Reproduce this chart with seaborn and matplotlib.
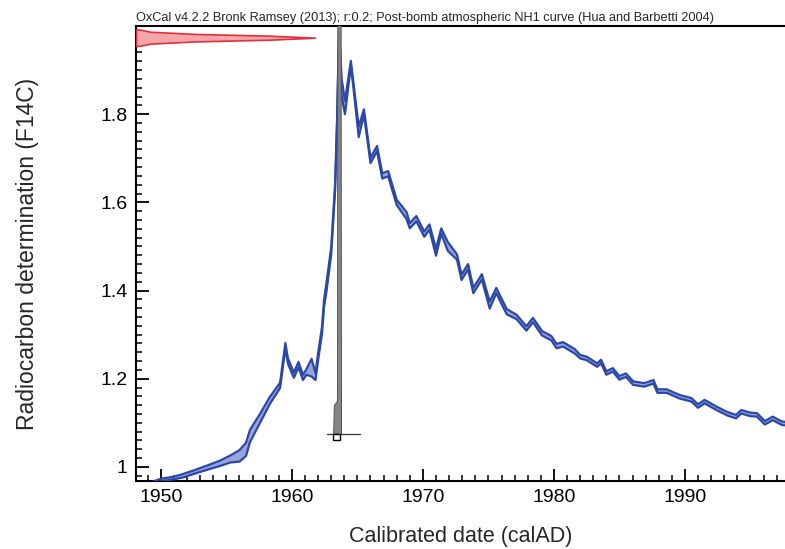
import numpy as np
import pandas as pd
import matplotlib
matplotlib.use("Agg")
import matplotlib.pyplot as plt
from matplotlib.ticker import MultipleLocator, FuncFormatter
from matplotlib.patches import Rectangle
import seaborn as sns

# ---- calibration curve (NH1 post-bomb) ----
curve_year = [1949.5, 1950.0, 1951.0, 1951.7, 1952.5, 1953.7, 1954.5, 1955.3, 1956.0, 1956.5,
              1956.8, 1957.6, 1958.3, 1959.1, 1959.5, 1959.7, 1960.15, 1960.5, 1960.85, 1961.1,
              1961.5, 1961.8, 1962.0, 1962.3, 1962.45, 1962.65, 1963.0, 1963.3, 1963.45, 1963.6,
              1963.8, 1964.05, 1964.5, 1964.7, 1965.1, 1965.5, 1966.0, 1966.5, 1966.9, 1967.35,
              1968.0, 1968.75, 1969.0, 1969.5, 1970.1, 1970.5, 1971.0, 1971.4, 1971.9, 1972.6,
              1972.95, 1973.45, 1973.85, 1974.5, 1975.1, 1975.6, 1976.4, 1977.15, 1977.9, 1978.4,
              1979.1, 1979.8, 1980.2, 1980.7, 1981.6, 1982.0, 1982.5, 1983.3, 1983.6, 1984.0,
              1984.5, 1985.0, 1985.5, 1986.05, 1986.9, 1987.6, 1987.9, 1988.6, 1989.6, 1990.5,
              1991.0, 1991.5, 1992.4, 1993.2, 1993.9, 1994.3, 1995.0, 1995.5, 1996.1, 1996.7,
              1997.4, 1998.0]
curve_f14c = [0.965, 0.970, 0.975, 0.980, 0.988, 1.000, 1.008, 1.018, 1.025, 1.040,
              1.070, 1.112, 1.150, 1.185, 1.275, 1.240, 1.208, 1.232, 1.203, 1.215,
              1.225, 1.205, 1.250, 1.310, 1.370, 1.410, 1.490, 1.635, 1.786, 1.990,
              1.860, 1.815, 1.915, 1.865, 1.760, 1.805, 1.695, 1.722, 1.660, 1.665,
              1.600, 1.570, 1.547, 1.563, 1.528, 1.544, 1.487, 1.535, 1.500, 1.476,
              1.430, 1.454, 1.400, 1.431, 1.367, 1.400, 1.352, 1.340, 1.314, 1.333,
              1.303, 1.292, 1.274, 1.278, 1.262, 1.250, 1.246, 1.231, 1.239, 1.213,
              1.220, 1.202, 1.208, 1.190, 1.186, 1.193, 1.172, 1.172, 1.159, 1.152,
              1.138, 1.148, 1.133, 1.121, 1.114, 1.125, 1.119, 1.118, 1.100, 1.110,
              1.099, 1.097]
curve_halfwidth = [0.003, 0.003, 0.003, 0.004, 0.004, 0.005, 0.006, 0.008, 0.013, 0.015,
                   0.014, 0.010, 0.008, 0.006, 0.006, 0.006, 0.006, 0.006, 0.006, 0.006,
                   0.020, 0.008, 0.008, 0.008, 0.008, 0.010, 0.008, 0.008, 0.006, 0.006,
                   0.020, 0.015, 0.006, 0.006, 0.012, 0.006, 0.006, 0.006, 0.006, 0.006,
                   0.006, 0.008, 0.006, 0.006, 0.006, 0.006, 0.008, 0.006, 0.010, 0.006,
                   0.006, 0.006, 0.006, 0.006, 0.008, 0.006, 0.006, 0.005, 0.005, 0.005,
                   0.005, 0.005, 0.005, 0.005, 0.005, 0.004, 0.004, 0.004, 0.004, 0.004,
                   0.004, 0.004, 0.004, 0.004, 0.004, 0.004, 0.004, 0.004, 0.004, 0.004,
                   0.004, 0.004, 0.004, 0.004, 0.004, 0.004, 0.004, 0.004, 0.004, 0.004,
                   0.004, 0.004]

# ---- radiocarbon measurement distribution (red, on y axis) ----
meas_f14c = [1.955, 1.960, 1.965, 1.969, 1.9735, 1.978, 1.982, 1.987, 1.992]
meas_prob = [0.02, 0.08, 0.33, 0.75, 1.0, 0.75, 0.33, 0.08, 0.02]

# ---- calibrated date distribution (grey, on x axis) ----
cal_year = [1963.15, 1963.2, 1963.44, 1963.47, 1963.72, 1963.75]
cal_prob = [0.0, 0.07, 0.08, 1.0, 1.0, 0.0]
cal_range = [1963.15, 1963.7]
cal_baseline_span = [1962.65, 1965.2]

title_text = "OxCal v4.2.2 Bronk Ramsey (2013); r:0.2; Post-bomb atmospheric NH1 curve (Hua and Barbetti 2004)"
x_ticks = [1950, 1960, 1970, 1980, 1990]
y_ticks = [1.0, 1.2, 1.4, 1.6, 1.8]

sns.set_theme(style="ticks")
plt.rcParams["font.family"] = ["Liberation Sans", "DejaVu Sans"]

fig = plt.figure(figsize=(7.85, 5.49), dpi=100)
ax = fig.add_axes([136 / 785, 1 - 481 / 549, 649 / 785, 455 / 549])

xmin, xmax = 1948.1, 1997.64
ymin, ymax = 0.968, 2.0
ax.set_xlim(xmin, xmax)
ax.set_ylim(ymin, ymax)

# curve band
yr = np.array(curve_year)
c = np.array(curve_f14c)
hw = np.array(curve_halfwidth)
df = pd.DataFrame({"year": yr, "upper": c + hw, "lower": c - hw})
ax.fill_between(df["year"], df["lower"], df["upper"], color="#9aa4dc", lw=0, zorder=2)
line_col = "#2c48a6"
sns.lineplot(data=df, x="year", y="upper", ax=ax, color=line_col, lw=1.6,
             sort=False, estimator=None, zorder=3)
sns.lineplot(data=df, x="year", y="lower", ax=ax, color=line_col, lw=1.6,
             sort=False, estimator=None, zorder=3)

# measurement distribution (red)
amp = 13.66
mx = xmin + amp * np.array(meas_prob)
ax.fill_betweenx(meas_f14c, xmin, mx, color="#f4a6ab", edgecolor="#e0303c", lw=1.2, zorder=4)

# calibrated distribution (grey)
base = 1.0747
height = 0.94
cy = base + height * np.array(cal_prob)
ax.fill_between(cal_year, base, cy, color="#858585", edgecolor="#555555", lw=0.7, zorder=5)
ax.plot(cal_baseline_span, [base, base], color="#333333", lw=0.9, zorder=5)
ax.add_patch(Rectangle((cal_range[0], 1.0615), cal_range[1] - cal_range[0], base - 1.0615,
                       facecolor="white", edgecolor="black", lw=1.0, zorder=6))

# axes styling
for s in ["left", "bottom", "top"]:
    ax.spines[s].set_color("black")
    ax.spines[s].set_linewidth(1.5)
ax.spines["right"].set_visible(False)

ax.set_xticks(x_ticks)
ax.set_yticks(y_ticks)
ax.xaxis.set_minor_locator(MultipleLocator(1))
ax.yaxis.set_minor_locator(MultipleLocator(0.02))
ax.yaxis.set_major_formatter(FuncFormatter(lambda v, p: f"{v:g}"))
ax.tick_params(which="major", direction="in", length=9, width=1.3, labelsize=14,
               colors="black", pad=6)
ax.tick_params(which="minor", direction="in", length=4.5, width=1.1, colors="black")
ax.tick_params(top=False, right=False, which="both")

ax.set_xlabel("Calibrated date (calAD)", fontsize=15.5, labelpad=14)
ax.set_ylabel("Radiocarbon determination (F14C)", fontsize=16.5, labelpad=44)

ax.text(0.0, 1.005, title_text, transform=ax.transAxes, fontsize=9.2, ha="left", va="bottom")

fig.savefig("out.png", dpi=100)
